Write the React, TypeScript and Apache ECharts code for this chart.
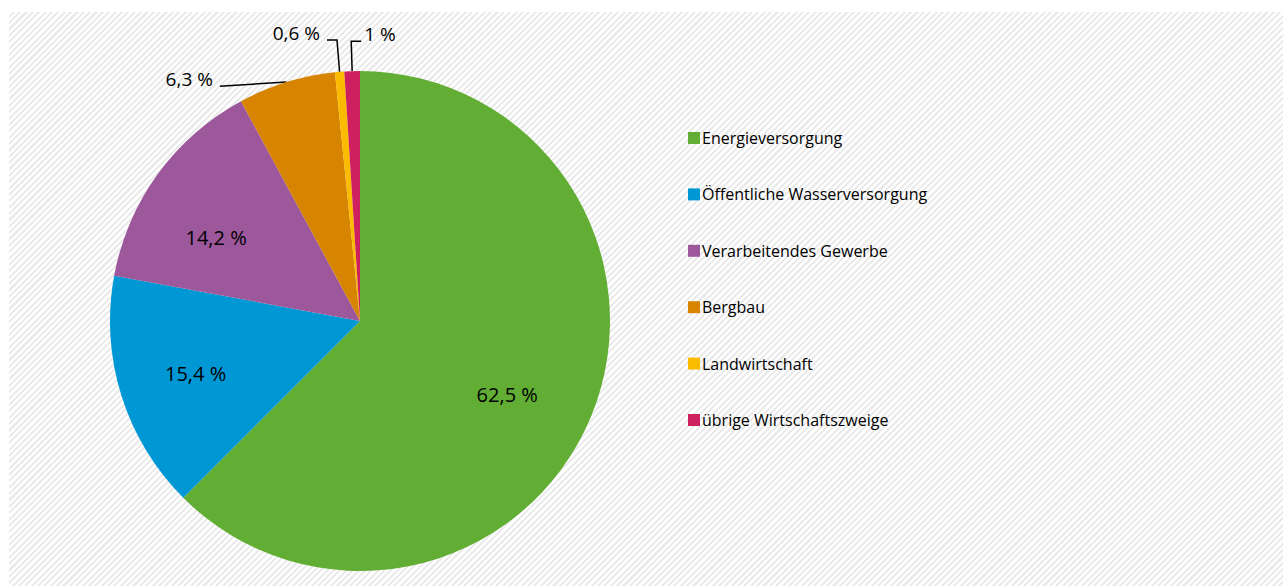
import React, { useEffect, useRef } from "react";
import * as echarts from "echarts";

const categories = [
  "Energieversorgung",
  "Öffentliche Wasserversorgung",
  "Verarbeitendes Gewerbe",
  "Bergbau",
  "Landwirtschaft",
  "übrige Wirtschaftszweige",
];
const values = [62.5, 15.4, 14.2, 6.3, 0.6, 1];
const colors = ["#62AE35", "#0098D4", "#9D579B", "#D78400", "#FABB00", "#CE1F5E"];
const labelInside = [true, true, true, false, false, false];

const FONT = "'Open Sans', sans-serif";
const fmt = (v: number) => `${String(v).replace(".", ",")} %`;

export default function App() {
  const ref = useRef<HTMLDivElement>(null);
  useEffect(() => {
    document.body.style.margin = "0";
    const chart = echarts.init(ref.current!, undefined, { renderer: "svg" });

    const lineCfg = (i: number) => {
      if (i === 3) return { length: 2, length2: 66 };
      if (i === 4) return { length: 32, length2: 10 };
      return { length: 30, length2: 10 };
    };

    const outerData = categories.map((name, i) => ({
      name,
      value: values[i],
      itemStyle: { color: colors[i] },
      label: { show: !labelInside[i] },
      labelLine: { show: !labelInside[i], ...lineCfg(i) },
    }));

    const innerData = categories.map((name, i) => ({
      name,
      value: values[i],
      itemStyle: { color: "rgba(0,0,0,0)" },
      label: { show: labelInside[i] },
    }));

    chart.setOption({
      animation: false,
      textStyle: { fontFamily: FONT },
      legend: {
        orient: "vertical",
        left: 688,
        top: 130,
        padding: 0,
        icon: "rect",
        itemWidth: 12,
        itemHeight: 12,
        itemGap: 40.4,
        selectedMode: false,
        data: categories,
        textStyle: {
          fontFamily: FONT,
          fontSize: 16,
          color: "#000",
          lineHeight: 16,
          padding: [0, 0, 0, -3],
        },
      },
      series: [
        {
          type: "pie",
          center: [360, 321],
          radius: [0, 250],
          startAngle: 90,
          clockwise: true,
          silent: true,
          avoidLabelOverlap: false,
          data: outerData,
          label: {
            position: "outside",
            fontFamily: FONT,
            fontSize: 19,
            color: "#000",
            distanceToLabelLine: 6,
            formatter: (p: any) => fmt(p.value),
          },
          labelLine: { lineStyle: { color: "#000", width: 1.5 } },
          labelLayout: (p: any) => {
            const pts = p.labelLinePoints;
            if (!pts || pts.length < 3) return {};
            const i = p.dataIndex;
            const lift = -7;
            if (i === 5) {
              const p1 = pts[1];
              const p2 = [p1[0] + (p1[0] - pts[2][0]), pts[2][1]];
              return {
                x: p2[0] + 3,
                y: p2[1] + lift,
                align: "left",
                verticalAlign: "middle",
                labelLinePoints: [pts[0], p1, p2],
              };
            }
            if (i === 3) {
              const end = [pts[2][0], pts[2][1] + 6];
              return {
                x: end[0] - 7,
                y: end[1] + lift,
                align: "right",
                verticalAlign: "middle",
                labelLinePoints: [pts[0], end],
              };
            }
            return {
              x: pts[2][0] - 7,
              y: pts[2][1] + lift,
              align: "right",
              verticalAlign: "middle",
              labelLinePoints: pts,
            };
          },
        },
        {
          type: "pie",
          center: [360, 321],
          radius: [0, 330],
          startAngle: 90,
          clockwise: true,
          silent: true,
          z: 5,
          data: innerData,
          label: {
            position: "inside",
            fontFamily: FONT,
            fontSize: 20,
            color: "#000",
            formatter: (p: any) => fmt(p.value),
          },
          labelLine: { show: false },
          labelLayout: (p: any) => {
            const i = p.dataIndex;
            if (i === 0) return { dx: -8, dy: 9 };
            if (i === 1) return { dx: -4, dy: 3 };
            if (i === 2) return { dx: -8, dy: 15 };
            return {};
          },
        },
      ],
    });
    return () => chart.dispose();
  }, []);

  return (
    <div style={{ position: "relative", width: 1283, height: 586, background: "#fff" }}>
      <div
        style={{
          position: "absolute",
          left: 9,
          top: 12,
          right: 0,
          bottom: 0,
          background:
            "repeating-linear-gradient(135deg, #ffffff 0px, #ffffff 2.3px, #ebebeb 2.3px, #ebebeb 4.5px)",
        }}
      />
      <div ref={ref} style={{ position: "absolute", left: 0, top: 0, width: 1283, height: 586 }} />
    </div>
  );
}
